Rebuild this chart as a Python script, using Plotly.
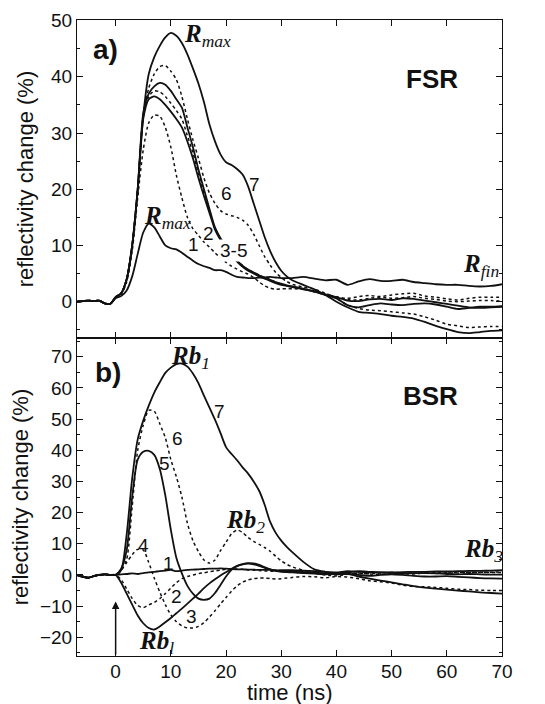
import plotly.graph_objects as go

# ---------------- data ----------------
T = [-7, -5, -4, -3, -2, -1, 0, 1, 2, 3, 4, 5, 6, 7, 8, 9, 10, 11, 12, 13, 14, 15, 16, 17, 18, 19, 20,
     21, 22, 23, 24, 25, 26, 27, 28, 29, 30, 31, 32, 34, 36, 38, 40, 42, 44, 46, 48, 50, 52, 54, 56,
     58, 60, 62, 64, 66, 68, 70]

# (a) FSR curves 1..7
fsr_1 = [0, 0.2, 0.1, 0.2, -0.3, -0.4, 0.6,
         1.0, 2.0, 4.5, 8.5, 12.3, 13.9, 13.2, 11.6, 10.0, 9.5,
         9.3, 8.7, 8.0, 7.3, 6.7, 6.3, 6.0, 5.6, 5.6, 5.3,
         4.8, 4.4, 4.3, 4.2, 4.2, 4.3, 4.3, 4.4, 4.3, 4.2, 4.2, 4.2,
         4.4, 4.1, 3.8, 3.9, 3.0, 3.6, 4.0, 3.7, 3.7, 3.9, 3.5, 3.3, 3.1, 3.0, 3.0, 2.8, 2.7, 2.8, 3.1]
fsr_2 = [0, 0.2, 0.1, 0.2, -0.3, -0.4, 0.7,
         1.3, 3.5, 9.0, 18.5, 27.0, 31.8, 33.2, 33.0, 31.0, 27.5,
         22.5, 18.5, 15.0, 13.0, 11.8, 10.6, 9.7, 8.7, 7.8, 7.0,
         6.3, 5.8, 5.3, 4.9, 4.3, 3.5, 2.8, 2.4, 2.2, 2.3, 2.3, 2.3,
         2.2, 1.8, 1.2, 0.8, 0.6, 0.9, 1.1, 0.9, 1.2, 1.4, 1.5, 1.0, 0.8, 0.5, 0.3, 0.6, 0.8, 0.8, 0.8]
fsr_3 = [0, 0.2, 0.1, 0.2, -0.3, -0.4, 0.8,
         1.5, 4.0, 10.0, 20.0, 32.5, 36.0, 36.5, 36.0, 35.0, 33.8,
         32.5, 31.0, 28.5, 25.5, 22.0, 18.8, 15.8, 12.8, 11.0, 9.8,
         8.4, 7.1, 6.2, 5.5, 5.0, 4.5, 4.1, 3.7, 3.3, 3.0, 2.8, 2.6,
         2.2, 1.8, 1.2, 0.6, -0.6, -1.0, -0.6, -0.3, -0.5, -0.6, -0.4, -0.3, -0.5, -0.9, -1.3, -1.1, -0.9, -0.9, -0.8]
fsr_4 = [0, 0.2, 0.1, 0.2, -0.3, -0.4, 0.8,
         1.5, 4.0, 10.0, 20.0, 33.0, 36.5, 37.5, 37.3, 36.5, 35.3,
         34.0, 32.5, 29.5, 26.5, 22.8, 19.3, 16.2, 13.0, 11.2, 10.0,
         8.6, 7.3, 6.4, 5.7, 5.2, 4.7, 4.3, 3.9, 3.5, 3.1, 2.9, 2.7,
         2.3, 1.9, 1.3, 0.9, 0.4, 0.3, 0.6, 0.8, 0.6, 0.7, 0.9, 0.6, 0.4, 0.1, 0.0, 0.1, 0.2, 0.2, 0.1]
fsr_5 = [0, 0.2, 0.1, 0.2, -0.3, -0.4, 0.8,
         1.5, 4.0, 10.0, 20.0, 33.5, 37.0, 38.3, 38.9, 38.6, 37.5,
         36.0, 34.5, 31.0, 27.5, 23.5, 20.0, 16.5, 13.2, 11.3, 10.0,
         8.6, 7.3, 6.4, 5.7, 5.2, 4.7, 4.3, 3.9, 3.5, 3.2, 2.9, 2.7,
         2.3, 1.8, 1.3, 0.8, 0.2, 0.1, 0.4, 0.5, 0.3, 0.6, 0.5, 0.2, -0.1, -0.4, -0.7, -1.0, -1.1, -1.0, -0.9]
fsr_6 = [0, 0.2, 0.1, 0.2, -0.3, -0.4, 0.8,
         1.5, 4.0, 10.0, 20.0, 33.0, 38.0, 40.5, 41.8, 42.0, 41.0,
         39.5, 36.5, 32.5, 28.8, 25.5, 22.0, 19.3, 17.5, 16.2, 15.6,
         15.3, 15.0, 14.5, 13.6, 12.0, 10.0, 8.0, 6.5, 5.2, 4.3, 3.6, 3.1,
         2.6, 2.2, 1.5, 0.6, -0.6, -1.2, -1.5, -1.6, -1.8, -2.0, -2.2, -2.7, -3.3, -4.0, -4.3, -4.6, -4.5, -4.4, -4.4]
fsr_7 = [0, 0.2, 0.1, 0.2, -0.3, -0.4, 0.8,
         1.5, 4.0, 10.0, 20.0, 33.0, 40.5, 43.5, 45.5, 47.0, 47.8,
         47.3, 46.0, 44.0, 41.5, 38.8, 35.5, 31.5, 28.5, 26.2, 24.8,
         24.3, 23.6, 22.6, 20.5, 17.5, 14.5, 11.5, 9.0, 7.0, 5.5, 4.5, 3.8,
         3.0, 2.2, 1.2, 0.0, -1.0, -1.8, -2.0, -2.2, -2.5, -2.7, -3.0, -3.6, -4.3, -4.9, -5.4, -5.6, -5.4, -5.2, -5.1]

# (b) BSR curves 1..7
bsr_1 = [0, -0.9, -0.4, 0, 0.2, 0, 0,
         0.2, 0.3, 0.5, 0.3, 0.6, 0.8, 1.0, 1.2, 1.4, 1.6,
         1.2, 1.4, 1.6, 1.7, 1.8, 1.9, 2.0, 2.0, 2.1, 2.0,
         1.9, 1.8, 1.8, 1.7, 1.7, 1.6, 1.6, 1.6, 1.5, 1.5, 1.5, 1.5,
         1.4, 1.2, 0.9, 0.8, 1.2, 1.0, 0.9, 0.8, 0.8, 0.9, 1.0, 1.0, 1.1, 1.1, 1.2, 1.3, 1.3, 1.4, 1.5]
bsr_2 = [0, -0.9, -0.4, 0, 0.2, 0, 0,
         -1.5, -4.5, -7.5, -9.8, -10.5, -9.6, -8.8, -7.6, -6.0, -4.2,
         -2.5, -1.2, -0.5, 0.0, 0.4, 0.7, 1.0, 1.3, 1.5, 1.8,
         1.9, 1.9, 1.8, 1.6, 1.5, 1.4, 1.3, 1.2, 1.2, 1.2, 1.2, 1.1,
         1.0, 0.8, 0.5, 0.6, 0.7, 0.5, 0.4, 0.6, 0.8, 0.7, 0.5, 0.6, 0.8, 0.7, 0.6, 0.8, 0.9, 0.8, 0.8]
bsr_3 = [0, -0.9, -0.4, 0, 0.2, 0, 0,
         -2.5, -6.0, -9.5, -13.0, -15.5, -17.0, -17.5, -16.5, -15.2, -13.8,
         -12.3, -10.8, -9.2, -7.6, -6.0, -4.2, -2.7, -1.4, -0.2, 0.9,
         2.0, 2.9, 3.5, 3.8, 3.7, 3.2, 2.5, 1.8, 1.4, 1.2, 1.1, 1.0,
         0.9, 0.8, 0.4, 0.2, 0.3, 0.0, -0.3, 0.0, 0.2, 0.0, -0.3, -0.5, -0.5, -0.4, -0.6, -0.8, -1.0, -1.1, -1.2]
bsr_4 = [0, -0.9, -0.4, 0, 0.2, 0, 0,
         1.5, 4.0, 6.5, 8.2, 8.0, 4.0, -1.0, -5.5, -9.5, -12.8,
         -15.0, -16.3, -17.0, -17.0, -16.5, -15.3, -13.5, -11.5, -9.3, -7.2,
         -5.2, -3.5, -2.3, -1.6, -1.2, -1.0, -1.0, -1.2, -1.3, -1.2, -1.0, -0.8,
         -0.5, -0.6, -0.9, -0.5, -0.7, -1.2, -1.9, -2.2, -2.6, -3.3, -3.7, -3.8, -4.0, -4.3, -4.6, -4.7, -4.9, -5.0, -5.0]
bsr_5 = [0, -0.9, -0.4, 0, 0.2, 0, 0,
         2.0, 8.0, 25.0, 37.0, 39.5, 39.8, 38.5, 34.0, 25.5, 14.5,
         5.5, 0.5, -3.5, -6.0, -7.6, -8.0, -7.6, -5.8, -3.2, -0.5,
         1.6, 2.8, 3.4, 3.6, 3.4, 2.9, 2.3, 1.8, 1.3, 1.0, 0.9, 0.8,
         0.6, 0.4, 0.2, 0.4, 0.8, 1.2, 1.0, 0.8, 0.7, 0.5, 0.6, 0.6, 0.5, 0.3, 0.2, 0.3, 0.2, 0.1, 0.1]
bsr_6 = [0, -0.9, -0.4, 0, 0.2, 0, 0,
         1.5, 5.0, 22.0, 40.0, 48.0, 52.8, 52.5, 48.5, 44.0, 37.0,
         31.5, 25.0, 16.6, 11.0, 7.5, 4.8, 3.8, 4.8, 7.8, 10.5,
         13.2, 14.4, 13.6, 12.0, 10.8, 9.8, 8.8, 7.6, 6.0, 4.5, 3.4, 2.6,
         1.5, 0.6, 0.0, -0.3, 0.2, 0.6, 0.3, 0.2, 0.5, 0.4, 0.3, 0.6, 0.5, 0.6, 0.8, 0.9, 0.8, 0.9, 1.0]
bsr_7 = [0, -0.9, -0.4, 0, 0.2, 0, 0,
         1.5, 13.0, 31.0, 43.5, 49.5, 54.3, 58.5, 61.8, 64.8, 66.5,
         67.6, 67.8, 66.8, 64.6, 61.5, 57.5, 53.7, 49.8, 45.5, 41.0,
         38.8, 36.8, 34.5, 32.5, 30.0, 27.0, 22.5, 17.0, 13.5, 11.0, 9.0, 7.3,
         4.2, 1.8, 1.0, 0.6, 0.4, -0.5, -1.2, -1.8, -2.4, -3.0, -3.6, -4.1, -4.4, -4.7, -5.0, -5.3, -5.6, -5.8, -6.0]

fsr_series = [fsr_1, fsr_2, fsr_3, fsr_4, fsr_5, fsr_6, fsr_7]
bsr_series = [bsr_1, bsr_2, bsr_3, bsr_4, bsr_5, bsr_6, bsr_7]
dashes = ["solid", "dot", "solid", "dot", "solid", "dot", "solid"]

x_ticks = [0, 10, 20, 30, 40, 50, 60, 70]
fsr_ticks = [0, 10, 20, 30, 40, 50]
bsr_ticks = [-20, -10, 0, 10, 20, 30, 40, 50, 60, 70]

# ---------------- figure ----------------
fig = go.Figure()
INK = "#111111"
for vals, d in zip(fsr_series, dashes):
    fig.add_trace(go.Scatter(x=T, y=vals, mode="lines", xaxis="x2", yaxis="y2",
                             line=dict(color=INK, width=1.8 if d == "solid" else 1.5, dash=d,
                                       shape="spline", smoothing=0.7),
                             hoverinfo="skip"))
for vals, d in zip(bsr_series, dashes):
    fig.add_trace(go.Scatter(x=T, y=vals, mode="lines", xaxis="x", yaxis="y",
                             line=dict(color=INK, width=1.8 if d == "solid" else 1.5, dash=d,
                                       shape="spline", smoothing=0.7),
                             hoverinfo="skip"))

SANS = "Liberation Sans, Arial, sans-serif"
SERIF = "Liberation Serif, Times New Roman, serif"
tickfont = dict(family=SANS, size=19, color=INK)
common_axis = dict(showline=True, linecolor=INK, linewidth=1, mirror="ticks", ticks="inside",
                   ticklen=6, tickcolor=INK, showgrid=False, zeroline=False, tickfont=tickfont,
                   automargin=False)
ytitle_font = dict(family=SANS, size=22, color=INK)

# the page body adds an 8 px offset, so the figure is sized/margined to compensate
fig.update_layout(
    width=537, height=696, margin=dict(l=69, r=43, t=12, b=48),
    paper_bgcolor="white", plot_bgcolor="white", showlegend=False,
    xaxis=dict(common_axis, range=[-7, 70], tickvals=x_ticks, anchor="y", ticklabelstandoff=-2),
    xaxis2=dict(common_axis, range=[-7, 70], tickvals=x_ticks, anchor="y2", matches="x",
                showticklabels=False),
    yaxis=dict(common_axis, range=[-26, 76], tickvals=bsr_ticks, domain=[0, 0.5], anchor="x",
               minor=dict(dtick=5, ticks="inside", ticklen=3, tickcolor=INK),
               title=dict(text="reflectivity change (%)", font=ytitle_font, standoff=11)),
    yaxis2=dict(common_axis, range=[-6.46, 50.1], tickvals=fsr_ticks, domain=[0.5, 1], anchor="x2",
                minor=dict(dtick=5, ticks="inside", ticklen=3, tickcolor=INK),
                title=dict(text="reflectivity change (%)", font=ytitle_font, standoff=11)),
)

ann = []
def txt(x, y, s, xr="x2", yr="y2", size=19, fam=SANS, xa="center", ya="middle", bg=None):
    d = dict(x=x, y=y, xref=xr, yref=yr, text=s, showarrow=False, xanchor=xa, yanchor=ya,
             font=dict(family=fam, size=size, color=INK))
    if bg:
        d.update(bgcolor=bg, borderpad=0)
    ann.append(d)

# x-axis title
ann.append(dict(x=0.5, y=-0.057, xref="paper", yref="paper", text="time (ns)", showarrow=False,
                xanchor="center", yanchor="middle", font=dict(family=SANS, size=22, color=INK)))
# panel a
txt(-1.8, 44.8, "<b>a)</b>", size=28)
txt(57.4, 39.6, "<b>FSR</b>", size=26)
txt(12.0, 47.3, "<b><i>R</i></b><sub><i>max</i></sub>", fam=SERIF, size=25, xa="left")
txt(4.7, 14.9, "<b><i>R</i></b><sub><i>max</i></sub>", fam=SERIF, size=25, xa="left")
txt(62.5, 6.4, "<b><i>R</i></b><sub><i>fin</i></sub>", fam=SERIF, size=25, xa="left")
txt(14.1, 10.1, "1")
txt(16.9, 12.2, "2")
txt(21.4, 9.1, "3-5", bg="white")
txt(20.0, 19.2, "6")
txt(25.1, 20.8, "7")
# panel b
txt(-1.3, 65.0, "<b>b)</b>", xr="x", yr="y", size=28)
txt(57.0, 57.4, "<b>BSR</b>", xr="x", yr="y", size=26)
txt(9.6, 69.6, "<b><i>Rb</i></b><sub><i>1</i></sub>", xr="x", yr="y", fam=SERIF, size=25, xa="left")
txt(19.6, 17.0, "<b><i>Rb</i></b><sub><i>2</i></sub>", xr="x", yr="y", fam=SERIF, size=25, xa="left")
txt(62.8, 7.7, "<b><i>Rb</i></b><sub><i>3</i></sub>", xr="x", yr="y", fam=SERIF, size=25, xa="left")
txt(3.8, -21.8, "<b><i>Rb</i></b><sub><i>l</i></sub>", xr="x", yr="y", fam=SERIF, size=25, xa="left")
txt(18.9, 52.3, "7", xr="x", yr="y")
txt(11.2, 43.8, "6", xr="x", yr="y")
txt(8.9, 35.8, "5", xr="x", yr="y")
txt(5.0, 9.6, "4", xr="x", yr="y")
txt(9.5, 3.7, "1", xr="x", yr="y")
txt(11.0, -7.0, "2", xr="x", yr="y")
txt(13.8, -13.4, "3", xr="x", yr="y")
# arrow marking t = 0
ann.append(dict(x=0, y=-8.5, xref="x", yref="y", ax=0, ay=-26, axref="x", ayref="y",
                text="", showarrow=True, arrowhead=2, arrowsize=1, arrowwidth=1.5, arrowcolor=INK))
fig.update_layout(annotations=ann)

fig.write_html("out.html")
